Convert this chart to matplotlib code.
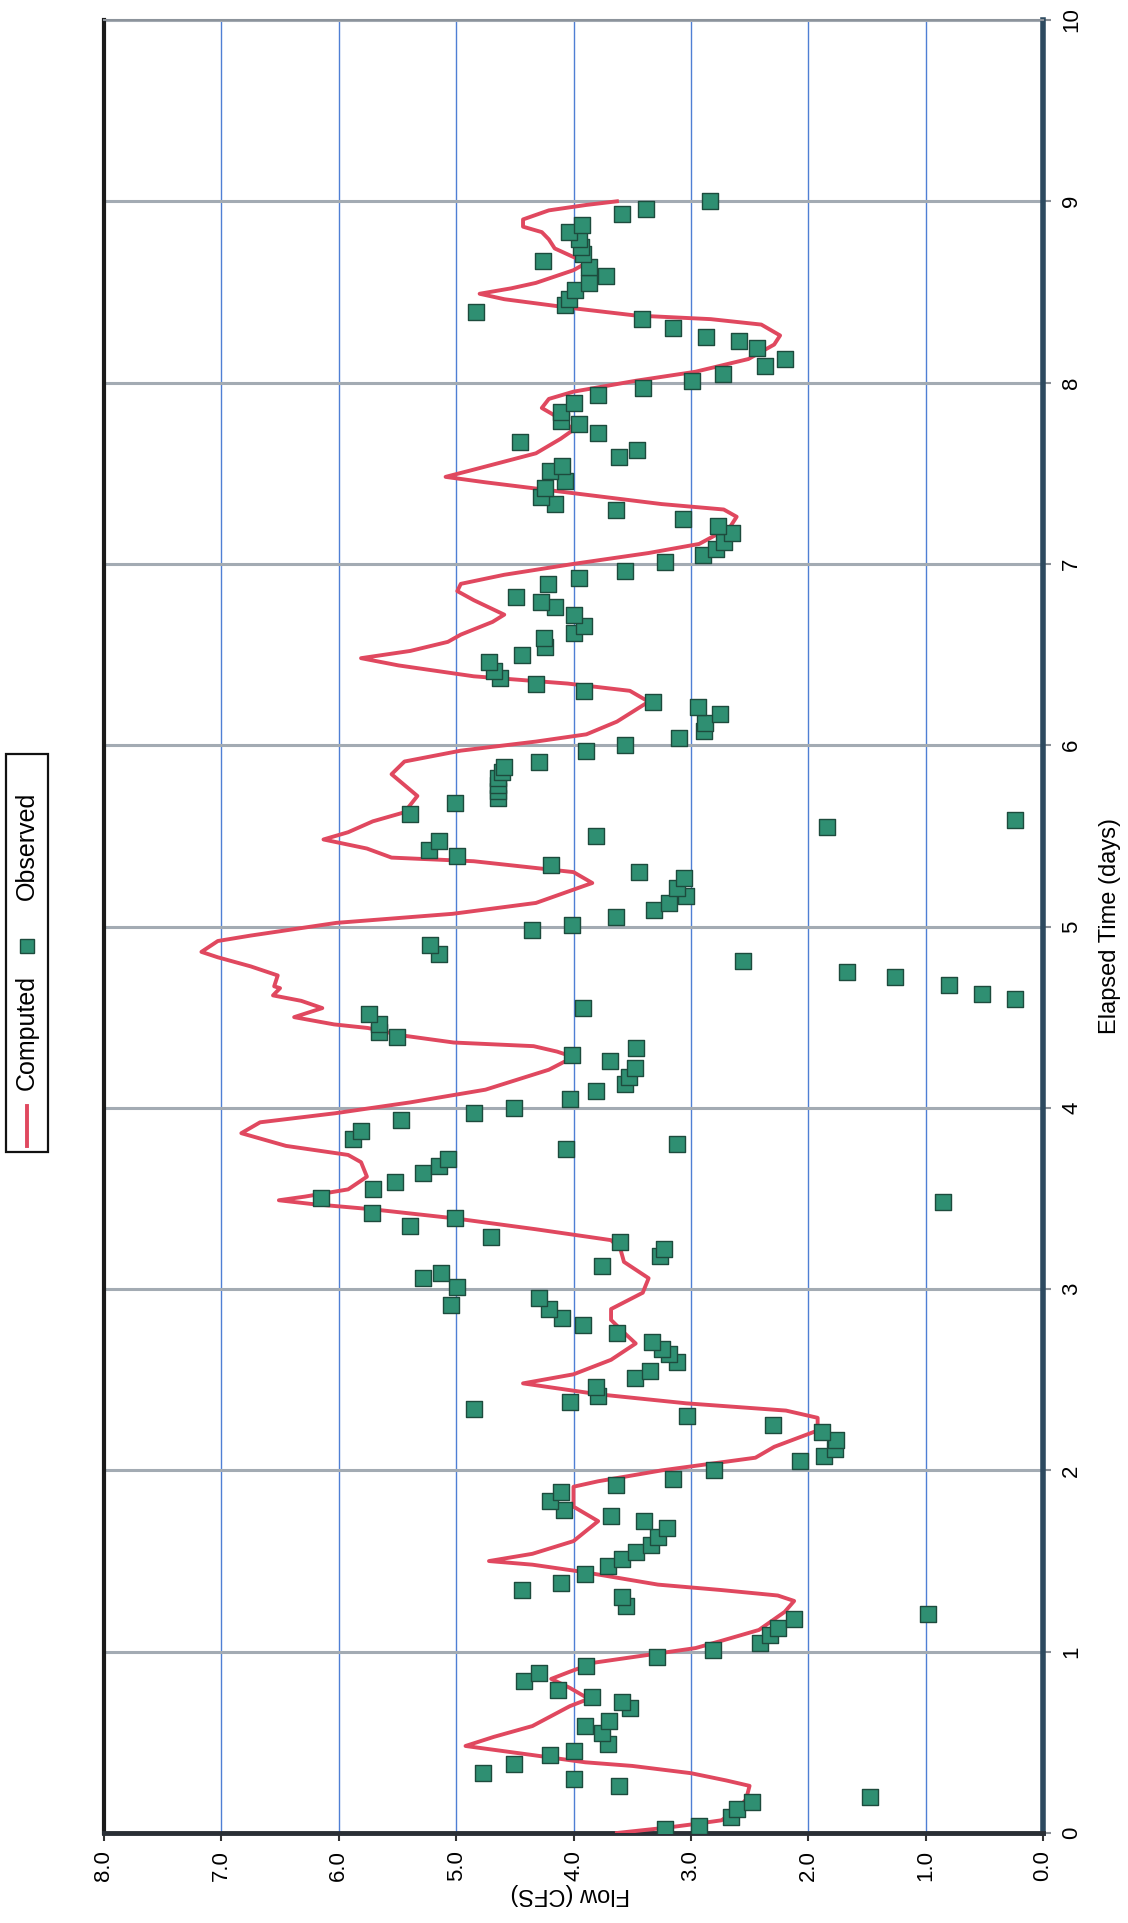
import matplotlib
matplotlib.use('Agg')
import matplotlib.pyplot as plt
from matplotlib.patches import Rectangle
from matplotlib.lines import Line2D

plt.rcParams['font.family'] = ['Liberation Sans', 'DejaVu Sans']

# computed hydrograph: elapsed time (days) and flow (CFS)
comp_t = [0.0, 0.03, 0.05, 0.07, 0.12, 0.185, 0.26, 0.29, 0.33, 0.37, 0.39, 0.43, 0.48, 0.53, 0.59,
          0.70, 0.74, 0.80, 0.85, 0.89, 0.94, 0.98, 1.02, 1.06, 1.12, 1.22, 1.28, 1.31, 1.34, 1.37,
          1.44, 1.48, 1.50, 1.54, 1.61, 1.72, 1.80, 1.91, 1.94, 2.00, 2.07, 2.13, 2.22, 2.29, 2.33,
          2.37, 2.42, 2.48, 2.53, 2.61, 2.70, 2.76, 2.83, 2.89, 2.98, 3.06, 3.15, 3.22, 3.27, 3.33,
          3.39, 3.44, 3.47, 3.49, 3.51, 3.55, 3.62, 3.70, 3.74, 3.79, 3.86, 3.92, 3.97, 4.03, 4.10,
          4.21, 4.28, 4.31, 4.34, 4.36, 4.40, 4.44, 4.46, 4.50, 4.55, 4.59, 4.62, 4.66, 4.67, 4.73,
          4.78, 4.83, 4.86, 4.92, 4.95, 5.02, 5.07, 5.13, 5.24, 5.30, 5.36, 5.38, 5.43, 5.48, 5.52,
          5.58, 5.63, 5.72, 5.78, 5.84, 5.91, 5.97, 6.02, 6.06, 6.13, 6.24, 6.30, 6.34, 6.38, 6.44,
          6.48, 6.52, 6.57, 6.61, 6.68, 6.72, 6.80, 6.85, 6.89, 6.94, 7.00, 7.06, 7.11, 7.20, 7.26,
          7.30, 7.33, 7.39, 7.45, 7.48, 7.52, 7.61, 7.69, 7.74, 7.80, 7.86, 7.91, 7.95, 8.01, 8.06,
          8.13, 8.21, 8.26, 8.32, 8.35, 8.37, 8.41, 8.46, 8.49, 8.52, 8.55, 8.62, 8.66, 8.74, 8.79,
          8.83, 8.86, 8.90, 8.95, 8.98, 9.00]
comp_q = [3.63, 3.20, 2.96, 2.74, 2.62, 2.53, 2.50, 2.70, 3.00, 3.50, 3.90, 4.35, 4.92, 4.68, 4.35,
          4.03, 3.87, 4.03, 4.19, 4.03, 3.82, 3.39, 2.96, 2.74, 2.42, 2.20, 2.12, 2.26, 2.74, 3.28,
          3.92, 4.35, 4.72, 4.35, 4.00, 3.79, 4.00, 4.00, 3.79, 3.25, 2.45, 2.29, 1.92, 1.92, 2.19,
          3.04, 3.79, 4.43, 4.00, 3.68, 3.47, 3.57, 3.68, 3.68, 3.41, 3.36, 3.57, 3.60, 3.68, 4.32,
          5.01, 5.71, 6.24, 6.51, 6.29, 5.92, 5.76, 5.81, 5.92, 6.45, 6.83, 6.67, 6.03, 5.39, 4.75,
          4.21, 4.00, 4.14, 4.34, 5.02, 5.47, 5.75, 6.04, 6.38, 6.14, 6.32, 6.56, 6.50, 6.55, 6.52,
          6.75, 7.03, 7.17, 7.03, 6.75, 6.02, 5.03, 4.32, 3.84, 4.00, 4.85, 5.55, 5.76, 6.13, 5.92,
          5.71, 5.44, 5.33, 5.44, 5.55, 5.44, 4.96, 4.32, 3.89, 3.63, 3.36, 3.52, 4.05, 4.85, 5.49,
          5.81, 5.39, 5.07, 4.96, 4.69, 4.59, 4.85, 4.99, 4.96, 4.59, 4.00, 3.36, 2.93, 2.67, 2.61,
          2.72, 3.25, 4.00, 4.75, 5.09, 4.85, 4.32, 4.11, 4.00, 4.11, 4.27, 4.21, 4.00, 3.47, 2.96,
          2.51, 2.29, 2.24, 2.40, 2.83, 3.47, 4.00, 4.59, 4.80, 4.53, 4.32, 4.00, 3.89, 4.16, 4.21,
          4.27, 4.43, 4.43, 4.21, 3.89, 3.63]

# observed flows
obs_t = [0.02, 0.04, 0.09, 0.13, 0.17, 0.20, 0.26, 0.30, 0.33, 0.38, 0.43, 0.45, 0.49, 0.55, 0.59,
         0.62, 0.69, 0.72, 0.75, 0.79, 0.84, 0.88, 0.92, 0.97, 1.01, 1.05, 1.09, 1.13, 1.18, 1.21,
         1.25, 1.30, 1.34, 1.38, 1.43, 1.47, 1.51, 1.55, 1.59, 1.63, 1.68, 1.72, 1.75, 1.78, 1.83,
         1.88, 1.92, 1.95, 2.00, 2.05, 2.08, 2.12, 2.17, 2.21, 2.25, 2.30, 2.34, 2.38, 2.41, 2.46,
         2.51, 2.55, 2.60, 2.64, 2.67, 2.71, 2.76, 2.80, 2.84, 2.89, 2.91, 2.95, 3.01, 3.06, 3.09,
         3.13, 3.18, 3.22, 3.26, 3.29, 3.35, 3.39, 3.42, 3.48, 3.50, 3.55, 3.59, 3.64, 3.68, 3.72,
         3.77, 3.80, 3.83, 3.87, 3.93, 3.97, 4.00, 4.05, 4.09, 4.13, 4.17, 4.22, 4.26, 4.29, 4.33,
         4.39, 4.42, 4.46, 4.52, 4.55, 4.60, 4.63, 4.68, 4.72, 4.75, 4.81, 4.85, 4.90, 4.98, 5.01,
         5.05, 5.09, 5.13, 5.17, 5.21, 5.27, 5.30, 5.34, 5.39, 5.42, 5.47, 5.50, 5.55, 5.59, 5.62,
         5.68, 5.71, 5.75, 5.78, 5.82, 5.85, 5.88, 5.91, 5.97, 6.00, 6.04, 6.08, 6.12, 6.17, 6.21,
         6.24, 6.30, 6.34, 6.37, 6.41, 6.46, 6.50, 6.54, 6.59, 6.62, 6.66, 6.72, 6.76, 6.79, 6.82,
         6.89, 6.92, 6.96, 7.01, 7.05, 7.08, 7.12, 7.17, 7.21, 7.25, 7.30, 7.33, 7.37, 7.42, 7.46,
         7.51, 7.54, 7.59, 7.63, 7.67, 7.72, 7.77, 7.79, 7.84, 7.89, 7.93, 7.97, 8.01, 8.05, 8.09,
         8.13, 8.19, 8.23, 8.25, 8.30, 8.35, 8.39, 8.43, 8.46, 8.51, 8.55, 8.59, 8.64, 8.67, 8.71,
         8.75, 8.79, 8.83, 8.87, 8.93, 8.96, 9.00]
obs_q = [3.22, 2.93, 2.66, 2.61, 2.48, 1.47, 3.61, 4.00, 4.77, 4.51, 4.20, 4.00, 3.71, 3.76, 3.90,
         3.70, 3.52, 3.59, 3.84, 4.13, 4.42, 4.29, 3.89, 3.29, 2.81, 2.41, 2.33, 2.26, 2.12, 0.98,
         3.55, 3.59, 4.44, 4.11, 3.90, 3.71, 3.59, 3.47, 3.34, 3.28, 3.20, 3.40, 3.68, 4.08, 4.20,
         4.11, 3.64, 3.15, 2.80, 2.07, 1.87, 1.77, 1.76, 1.88, 2.30, 3.03, 4.85, 4.03, 3.79, 3.81,
         3.48, 3.35, 3.12, 3.19, 3.25, 3.33, 3.63, 3.92, 4.10, 4.21, 5.04, 4.29, 4.99, 5.28, 5.13,
         3.76, 3.26, 3.23, 3.60, 4.70, 5.39, 5.01, 5.72, 0.85, 6.15, 5.71, 5.52, 5.28, 5.15, 5.07,
         4.06, 3.12, 5.88, 5.81, 5.47, 4.85, 4.51, 4.03, 3.81, 3.56, 3.53, 3.48, 3.69, 4.01, 3.47,
         5.50, 5.66, 5.66, 5.74, 3.92, 0.24, 0.52, 0.80, 1.26, 1.67, 2.56, 5.15, 5.22, 4.35, 4.01,
         3.64, 3.31, 3.19, 3.04, 3.12, 3.06, 3.44, 4.19, 4.99, 5.23, 5.15, 3.81, 1.84, 0.24, 5.39,
         5.01, 4.64, 4.64, 4.64, 4.64, 4.61, 4.59, 4.29, 3.89, 3.56, 3.10, 2.89, 2.88, 2.75, 2.94,
         3.32, 3.91, 4.32, 4.63, 4.68, 4.72, 4.44, 4.24, 4.25, 4.00, 3.91, 4.00, 4.16, 4.28, 4.49,
         4.22, 3.95, 3.56, 3.22, 2.90, 2.79, 2.72, 2.65, 2.77, 3.07, 3.64, 4.16, 4.28, 4.24, 4.07,
         4.20, 4.10, 3.61, 3.46, 4.46, 3.79, 3.95, 4.11, 4.11, 4.00, 3.79, 3.41, 2.99, 2.73, 2.37,
         2.20, 2.44, 2.59, 2.87, 3.15, 3.42, 4.83, 4.07, 4.04, 3.99, 3.87, 3.72, 3.87, 4.26, 3.92,
         3.94, 3.95, 4.04, 3.93, 3.59, 3.38, 2.84]

flow_ticks = [0, 1, 2, 3, 4, 5, 6, 7, 8]
time_ticks = [0, 1, 2, 3, 4, 5, 6, 7, 8, 9, 10]

line_col = '#e0485f'
obs_col = '#2f8f72'

W, H = 1128, 1923
fig = plt.figure(figsize=(W / 100, H / 100), dpi=100)
# chart is drawn turned on its side: flow runs right-to-left, time runs upward
ax = fig.add_axes([104 / W, 1 - 1833 / H, (1043 - 104) / W, (1833 - 20) / H])

ax.plot(comp_q, comp_t, color=line_col, lw=2.8, zorder=3)
ax.scatter(obs_q, obs_t, marker='s', s=118, c=obs_col, edgecolors='#1d4b3d',
           linewidths=1.0, zorder=4)

ax.set_xlim(8, 0)
ax.set_ylim(0, 10)
ax.set_xticks(flow_ticks)
ax.set_xticklabels([f'{v:.1f}' for v in flow_ticks], rotation=90)
ax.set_yticks(time_ticks)
ax.set_yticklabels([str(v) for v in time_ticks], rotation=90, va='center')
ax.yaxis.tick_right()
ax.tick_params(axis='x', length=6, width=1.5, color='#333333', pad=6, labelsize=16)
ax.tick_params(axis='y', length=6, width=1.5, color='#8a8f96', pad=7, labelsize=16)

ax.set_axisbelow(True)
ax.grid(axis='x', color='#4f7fd4', lw=1.0)
ax.grid(axis='y', color='#a3abb3', lw=2.2)

ax.spines['left'].set_color('#1a1a1a')
ax.spines['left'].set_linewidth(3)
ax.spines['bottom'].set_color('#2a2f35')
ax.spines['bottom'].set_linewidth(3.5)
ax.spines['right'].set_color('#2d4a60')
ax.spines['right'].set_linewidth(4)
ax.spines['top'].set_color('#8c939b')
ax.spines['top'].set_linewidth(1.5)

fig.text(570 / W, 1 - 1894 / H, 'Flow (CFS)', rotation=180, ha='center', va='center', fontsize=17)
fig.text(1110 / W, 1 - 926 / H, 'Elapsed Time (days)', rotation=90, ha='center', va='center',
         fontsize=17)

# legend box on the left side
fig.add_artist(Rectangle((6 / W, 1 - 1152 / H), 42 / W, (1152 - 754) / H,
                         transform=fig.transFigure, fill=False, ec='#111111', lw=1.6))
fig.add_artist(Line2D([27 / W, 27 / W], [1 - 1146 / H, 1 - 1106 / H], transform=fig.transFigure,
                      color=line_col, lw=2.8))
fig.text(27 / W, 1 - 1033 / H, 'Computed', rotation=90, ha='center', va='center', fontsize=18)
fig.add_artist(Line2D([27 / W], [1 - 946 / H], transform=fig.transFigure, marker='s', ms=10,
                      mfc=obs_col, mec='#1d4b3d', lw=0))
fig.text(27 / W, 1 - 846 / H, 'Observed', rotation=90, ha='center', va='center', fontsize=18)

fig.savefig('out.png', dpi=100)
